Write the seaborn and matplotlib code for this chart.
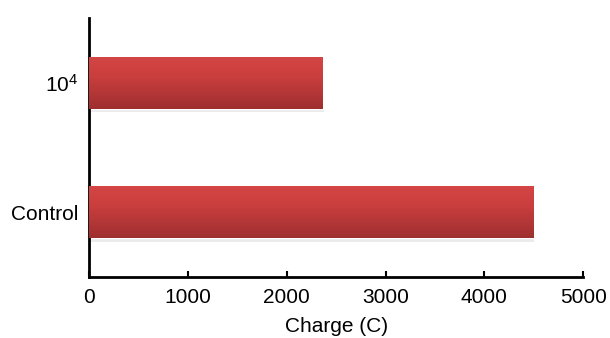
import numpy as np
import pandas as pd
import matplotlib
matplotlib.use("Agg")
import matplotlib.pyplot as plt
from matplotlib.colors import LinearSegmentedColormap
import seaborn as sns

# Values shown on the chart
groups = ["Control", r"$\mathregular{10^4}$"]
charge = [4495, 2365]
x_ticks = [0, 1000, 2000, 3000, 4000, 5000]

sns.set_style("white")
plt.rcParams["font.family"] = ["Liberation Sans", "DejaVu Sans"]
plt.rcParams["mathtext.fontset"] = "custom"
plt.rcParams["mathtext.rm"] = "Liberation Sans"
plt.rcParams["text.color"] = "black"
plt.rcParams["axes.labelcolor"] = "black"
plt.rcParams["xtick.color"] = "black"
plt.rcParams["ytick.color"] = "black"

df = pd.DataFrame({"group": groups, "charge": charge})

fig = plt.figure(figsize=(6.10, 3.38), dpi=100)
ax = fig.add_axes([0.146, 0.180, 0.810, 0.767])

sns.barplot(data=df, y="group", x="charge", orient="h", order=groups,
            color="#c43a3a", width=0.4, saturation=1, ax=ax)

# Vertical shading on every bar: lighter on top, darker toward the bottom
shade = LinearSegmentedColormap.from_list(
    "barshade", ["#d44545", "#cc3f3f", "#b63737", "#9e2f2f"])
grad = np.linspace(0, 1, 256).reshape(-1, 1)
for patch in list(ax.patches):
    x0, y0 = patch.get_x(), patch.get_y()
    w, h = patch.get_width(), patch.get_height()
    # faint drop shadow under the bar
    ax.add_patch(plt.Rectangle((x0, y0 - 0.025), w + 12, h, facecolor="#c8c8c8",
                               alpha=0.35, edgecolor="none", zorder=1))
    patch.set_zorder(2)
    im = ax.imshow(grad, extent=(x0, x0 + w, y0, y0 + h), aspect="auto",
                   cmap=shade, origin="upper", zorder=3, interpolation="bicubic")
    im.set_clip_path(patch)

ax.set_xlim(0, 5000)
ax.set_ylim(-0.5, 1.5)
ax.set_xticks(x_ticks)
ax.set_xticklabels([str(t) for t in x_ticks])
ax.set_xlabel("Charge (C)", fontsize=15, labelpad=7)
ax.set_ylabel("")

for side in ("top", "right"):
    ax.spines[side].set_visible(False)
for side in ("left", "bottom"):
    ax.spines[side].set_visible(True)
    ax.spines[side].set_color("black")
    ax.spines[side].set_linewidth(2)

ax.tick_params(axis="x", direction="in", length=4, width=1.5, color="black",
               labelsize=15, pad=8, bottom=True)
ax.tick_params(axis="y", length=0, labelsize=15, pad=8)

fig.savefig("out.png", dpi=100)
